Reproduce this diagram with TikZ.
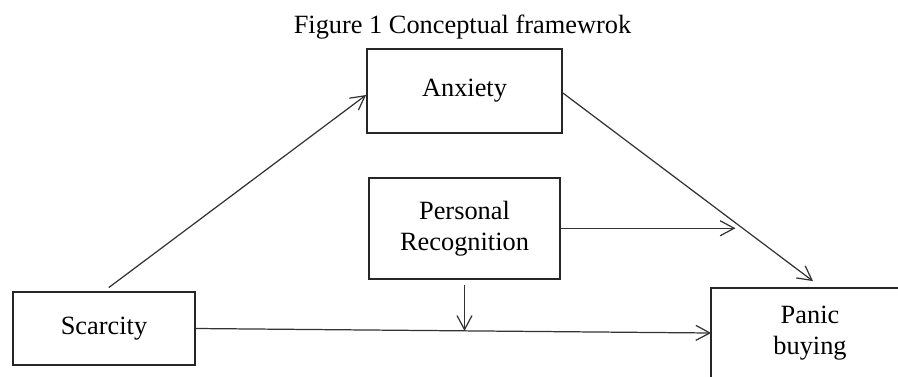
\documentclass[tikz,border=0pt]{standalone}
\usepackage{fontspec}
\setmainfont{Liberation Serif}
\usepackage{xcolor}
\usetikzlibrary{arrows.meta, positioning, calc}

\begin{document}
\begin{tikzpicture}[
        box/.style={draw=black!85, line width=1pt, rectangle, inner sep=0pt, align=center, font=\fontsize{15}{17.6}\selectfont},
        arrow/.style={-{Straight Barb[length=0.28cm, width=0.3cm]}, line width=0.7pt, draw=black!80}
    ]
    \useasboundingbox (0,0) rectangle (17.96,7.52);

    % Title
    \node[anchor=base, font=\fontsize{15}{17.6}\selectfont] (title) at (9.25,6.86) {Figure 1 Conceptual framewrok};

    % Variables
    \node[box, minimum width=3.9cm, minimum height=1.68cm] (anxiety) at (9.29,5.70) {Anxiety};
    \node[box, minimum width=3.82cm, minimum height=2.02cm, below=0.86cm of anxiety] (personal) {Personal\\Recognition};
    \node[box, minimum width=3.64cm, minimum height=1.46cm] (scarcity) at (2.08,0.95) {Scarcity};
    % panic box runs off the page: only top and left edges show
    \node[box, draw=none, minimum width=3.92cm, minimum height=1.76cm] (panic) at (16.2,0.86) {Panic\\buying};
    \draw[draw=black!85, line width=1pt] ([yshift=-0.5cm]panic.south west) -- (panic.north west) -- ([xshift=0.5cm]panic.north east);

    % Arrows
    \draw[arrow, shorten <=0.12cm] (scarcity.north) -- ([yshift=-0.08cm]anxiety.west);
    \draw[arrow] ([yshift=-0.04cm]anxiety.east) -- coordinate[pos=0.706] (mod) ([xshift=0.06cm, yshift=0.14cm]panic.north);
    \draw[arrow] (scarcity.east) -- coordinate[pos=0.527] (mid) (panic.west);
    \draw[arrow, shorten >=0.08cm] (personal.east) -- (personal.east -| mod);
    \draw[arrow, shorten <=0.1cm] (personal.south) -- (personal.south |- mid);

\end{tikzpicture}
\end{document}
